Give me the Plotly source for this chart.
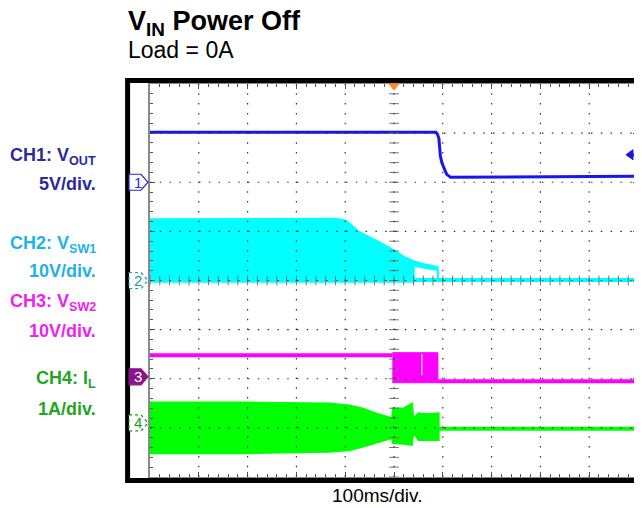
import plotly.graph_objects as go
import numpy as np

# ---------------- data (time in ms, trigger at t=0, 100 ms/div) ----------------
# CH1 Vout (V)
ch1_t = [-500, -250, 0, 86, 89, 92, 95, 98, 102, 108, 116, 300, 500]
ch1_v = [5.1, 5.1, 5.1, 5.1, 4.9, 4.45, 2.7, 2.0, 1.5, 0.8, 0.5, 0.55, 0.6]
ch1_trig_level = 2.8

# CH2 Vsw1 (V): switching envelope
ch2_t_top = [-500, -400, -300, -200, -120, -98, -71, -31, 0, 20, 41]
ch2_v_top = [12.5, 12.5, 12.6, 12.6, 12.6, 12.2, 9.9, 7.9, 6.2, 4.9, 3.9]
ch2_v_bot = -0.3
ch2_tail_t = [41, 50, 60, 70, 80, 90]
ch2_tail_top = [3.9, 3.6, 3.4, 3.2, 3.0, 2.8]
ch2_tail_bot = [3.0, 2.8, 2.6, 2.4, 2.2, 2.1]
ch2_off_t = [41, 500]
ch2_off_v = [0.1, 0.1]

# CH3 Vsw2 (V)
ch3_on_t = [-500, -3.5]
ch3_on_v = [4.4, 4.4]
ch3_burst_t = [-3.5, 90]
ch3_burst_top = [4.9, 4.9]
ch3_burst_bot = [-1.2, -1.2]
ch3_gap_t = 57
ch3_off_t = [90, 500]
ch3_off_v = [-0.9, -0.9]

# CH4 IL (A): ripple envelope
ch4_t = [-500, -300, -133, -92, -65, -37, -4, -3, 20, 37, 40, 50, 70, 88, 92]
ch4_top = [0.42, 0.42, 0.40, 0.36, 0.30, 0.20, 0.10, 0.30, 0.30, 0.40, 0.10, 0.20, 0.18, 0.20, 0.20]
ch4_bot = [-0.62, -0.62, -0.59, -0.56, -0.49, -0.41, -0.31, -0.41, -0.43, -0.45, -0.21, -0.35, -0.35, -0.35, -0.35]
ch4_off_t = [92, 500]
ch4_off_v = [-0.12, -0.12]

# channel settings: volts (amps) per division and reference offset in divisions
scales = {1: 5, 2: 10, 3: 10, 4: 1}
offsets = {1: 2.0, 2: 0.0, 3: -1.96, 4: -2.9}

C1, C2, C3, C4 = "#1616f0", "#00ffff", "#ff00ff", "#00ff00"
FONT = "Liberation Sans, Arial, sans-serif"


def dv(ch, v):
    return [x / scales[ch] + offsets[ch] for x in np.atleast_1d(v)]


def px2x(px):
    return (px - 150) / 490


def py2y(py):
    return (477 - py) / 393


def div2y(d):
    return (d + 4) / 8


fig = go.Figure()

# CH2 filled burst
fig.add_trace(go.Scatter(
    x=ch2_t_top + ch2_t_top[::-1],
    y=dv(2, ch2_v_top) + dv(2, [ch2_v_bot] * len(ch2_t_top)),
    fill="toself", fillcolor=C2, line=dict(color=C2, width=1.5), mode="lines",
    hoverinfo="skip"))
fig.add_trace(go.Scatter(
    x=ch2_tail_t + ch2_tail_t[::-1],
    y=dv(2, ch2_tail_top) + dv(2, ch2_tail_bot[::-1]),
    fill="toself", fillcolor=C2, line=dict(color=C2, width=1.5), mode="lines",
    hoverinfo="skip"))
fig.add_trace(go.Scatter(
    x=[ch2_tail_t[-1], ch2_tail_t[-1]], y=dv(2, [ch2_tail_bot[-1], ch2_off_v[0]]),
    mode="lines", line=dict(color=C2, width=2), hoverinfo="skip"))
fig.add_trace(go.Scatter(x=ch2_off_t, y=dv(2, ch2_off_v), mode="lines",
                         line=dict(color=C2, width=4), hoverinfo="skip"))

# CH3
fig.add_trace(go.Scatter(x=ch3_on_t, y=dv(3, ch3_on_v), mode="lines",
                         line=dict(color=C3, width=4), hoverinfo="skip"))
fig.add_trace(go.Scatter(
    x=ch3_burst_t + ch3_burst_t[::-1],
    y=dv(3, ch3_burst_top) + dv(3, ch3_burst_bot[::-1]),
    fill="toself", fillcolor=C3, line=dict(color=C3, width=1), mode="lines",
    hoverinfo="skip"))
fig.add_trace(go.Scatter(x=[ch3_gap_t, ch3_gap_t], y=dv(3, [ch3_burst_top[0] - 0.3, ch3_burst_bot[0] + 1.5]),
                         mode="lines", line=dict(color="#ffb8ff", width=1.5), hoverinfo="skip"))
fig.add_trace(go.Scatter(x=ch3_off_t, y=dv(3, ch3_off_v), mode="lines",
                         line=dict(color=C3, width=4), hoverinfo="skip"))

# CH4
fig.add_trace(go.Scatter(
    x=ch4_t + ch4_t[::-1],
    y=dv(4, ch4_top) + dv(4, ch4_bot[::-1]),
    fill="toself", fillcolor=C4, line=dict(color=C4, width=1.5), mode="lines",
    hoverinfo="skip"))
fig.add_trace(go.Scatter(x=ch4_off_t, y=dv(4, ch4_off_v), mode="lines",
                         line=dict(color=C4, width=4), hoverinfo="skip"))

# CH1
fig.add_trace(go.Scatter(x=ch1_t, y=dv(1, ch1_v), mode="lines",
                         line=dict(color=C1, width=3), hoverinfo="skip"))

# graticule center cross ticks
tx = np.arange(-500, 501, 20)
ty = np.arange(-4, 4.01, 0.2)
fig.add_trace(go.Scatter(x=tx, y=[0] * len(tx), mode="markers",
                         marker=dict(symbol="line-ns", size=7, line=dict(color="#777", width=1)),
                         hoverinfo="skip"))
fig.add_trace(go.Scatter(x=[0] * len(ty), y=ty, mode="markers",
                         marker=dict(symbol="line-ew", size=7, line=dict(color="#777", width=1)),
                         hoverinfo="skip"))

shapes = []
# dotted graticule lines above traces
for i in range(-4, 5):
    shapes.append(dict(type="line", xref="x", yref="y", x0=i * 100, x1=i * 100, y0=-4, y1=4,
                       line=dict(color="#333", width=1.2, dash="1.5px,8.3px"), layer="above"))
for j in range(-3, 4):
    shapes.append(dict(type="line", xref="x", yref="y", x0=-500, x1=500, y0=j, y1=j,
                       line=dict(color="#333", width=1.2, dash="1.5px,8.3px"), layer="above"))

# outer black frame
shapes.append(dict(type="rect", xref="paper", yref="paper",
                   x0=px2x(127.5), x1=px2x(648), y0=py2y(480.5), y1=py2y(80.5),
                   line=dict(color="black", width=5), layer="above"))

# channel reference markers
marker_path = "M -21,8 L -9,8 L -2,0 L -9,-8 L -21,-8 Z"
marker_styles = {
    1: dict(fill="white", line="#2a2ad0", text="#2a2ad0", dash="solid"),
    2: dict(fill="white", line="#1aa09a", text="#1aa09a", dash="dot"),
    3: dict(fill="#8a148a", line="#8a148a", text="white", dash="solid"),
    4: dict(fill="white", line="#1a9a1a", text="#1a9a1a", dash="dot"),
}
annotations = []
for ch, st in marker_styles.items():
    shapes.append(dict(type="path", xref="paper", yref="paper", xsizemode="pixel", ysizemode="pixel",
                       xanchor=0, yanchor=div2y(offsets[ch]), path=marker_path,
                       fillcolor=st["fill"], line=dict(color=st["line"], width=1.2, dash=st["dash"]),
                       layer="above"))
    annotations.append(dict(text=str(ch), xref="paper", yref="paper", x=px2x(137.5),
                            y=div2y(offsets[ch]), xanchor="center", yanchor="middle", showarrow=False,
                            font=dict(family=FONT, size=15, color=st["text"])))

# CH1 trigger-level arrow on right edge
lvl = dv(1, ch1_trig_level)[0]
shapes.append(dict(type="path", xref="paper", yref="paper", xsizemode="pixel", ysizemode="pixel",
                   xanchor=1, yanchor=div2y(lvl), path="M -12,0 L -5,5 L -5,-5 Z",
                   fillcolor=C1, line=dict(color=C1, width=1), layer="above"))
shapes.append(dict(type="line", xref="paper", yref="paper", xsizemode="pixel", ysizemode="pixel",
                   xanchor=1, yanchor=div2y(lvl), x0=-6, x1=0, y0=0, y1=0,
                   line=dict(color=C1, width=2), layer="above"))
# trigger position marker (orange)
shapes.append(dict(type="path", xref="paper", yref="paper", xsizemode="pixel", ysizemode="pixel",
                   xanchor=0.5, yanchor=1, path="M -5,0 L 5,0 L 0,-6 Z",
                   fillcolor="#ff8c1a", line=dict(color="#ff8c1a", width=1), layer="above"))

# texts
annotations += [
    dict(text="<b>V<sub>IN</sub> Power Off</b>", x=px2x(126), y=py2y(23), xanchor="left", yanchor="middle",
         font=dict(size=27, color="black")),
    dict(text="Load = 0A", x=px2x(126), y=py2y(50), xanchor="left", yanchor="middle",
         font=dict(size=23, color="black")),
    dict(text="100ms/div.", x=px2x(378), y=py2y(495), xanchor="center", yanchor="middle",
         font=dict(size=19, color="black")),
]
labels = [
    ("<b>CH1: V<sub>OUT</sub></b>", 156, "#2b2b9e"),
    ("<b>5V/div.</b>", 184, "#2b2b9e"),
    ("<b>CH2: V<sub>SW1</sub></b>", 244, "#1fb2ea"),
    ("<b>10V/div.</b>", 271, "#1fb2ea"),
    ("<b>CH3: V<sub>SW2</sub></b>", 302, "#ee22ee"),
    ("<b>10V/div.</b>", 331, "#ee22ee"),
    ("<b>CH4: I<sub>L</sub></b>", 379, "#23a523"),
    ("<b>1A/div.</b>", 409, "#23a523"),
]
for txt, yy, col in labels:
    annotations.append(dict(text=txt, x=px2x(98), y=py2y(yy), xanchor="right", yanchor="middle",
                            font=dict(size=18, color=col)))
for a in annotations:
    a.setdefault("xref", "paper")
    a.setdefault("yref", "paper")
    a.setdefault("showarrow", False)
    a["font"].setdefault("family", FONT)

axis_common = dict(showgrid=False, zeroline=False, showticklabels=False, showline=True,
                   linecolor="#8a8a8a", linewidth=2, mirror="allticks", ticks="inside",
                   tickcolor="#555", tickwidth=1, layer="above traces", fixedrange=True)
# the page body adds an 8px margin, so the figure is 8px smaller and shifted accordingly
fig.update_layout(
    width=634, height=500,
    margin=dict(l=142, r=2, t=76, b=31),
    paper_bgcolor="white", plot_bgcolor="white",
    showlegend=False,
    xaxis=dict(range=[-500, 500], tick0=0, dtick=100, ticklen=5,
               minor=dict(dtick=20, ticklen=3, ticks="inside", tickcolor="#555"), **axis_common),
    yaxis=dict(range=[-4, 4], tick0=0, dtick=1, ticklen=5,
               minor=dict(dtick=0.2, ticklen=3, ticks="inside", tickcolor="#555"), **axis_common),
    shapes=shapes,
    annotations=annotations,
    font=dict(family=FONT),
)
fig.write_html("out.html")
